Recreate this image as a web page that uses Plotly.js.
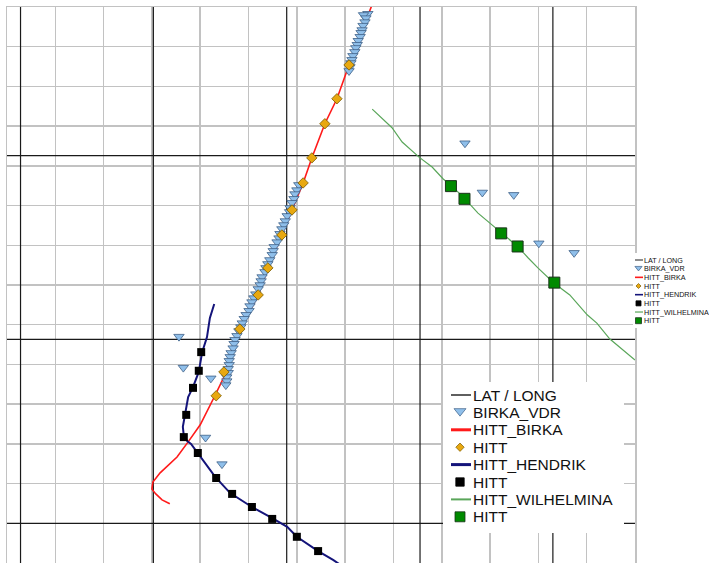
<!DOCTYPE html>
<html>
<head>
<meta charset="utf-8">
<script src="https://cdn.plot.ly/plotly-3.0.1.min.js"></script>
<style>html,body{margin:0;padding:0;background:#fff;}#chart{width:709px;height:563px;}</style>
</head>
<body>
<div id="chart"></div>
<script>
// ---- DATA (chart grid units) ----
const lonLines = [0.28, 3.03, 5.79, 8.55, 11.30];
const latLines = [1.00, 5.63, 10.26];

const birkaTrackX = [7.58, 7.35, 7.08, 6.83, 6.58, 6.31, 6.13, 5.90, 5.69, 5.40, 5.20, 4.82, 4.62, 4.49, 4.29, 4.00, 3.75, 3.52, 3.17, 3.02, 3.00, 3.08, 3.21, 3.37];
const birkaTrackY = [14.13, 13.42, 12.54, 11.69, 11.06, 10.20, 9.57, 8.89, 8.26, 7.43, 6.75, 5.89, 5.24, 4.68, 4.18, 3.48, 3.05, 2.67, 2.27, 2.04, 1.86, 1.74, 1.59, 1.49];

const birkaHittX = [7.08, 6.83, 6.58, 6.31, 6.13, 5.90, 5.69, 5.40, 5.20, 4.82, 4.49, 4.33];
const birkaHittY = [12.54, 11.69, 11.06, 10.20, 9.57, 8.89, 8.26, 7.43, 6.75, 5.89, 4.81, 4.21];

const birkaVdrX = [
  7.47, 7.38, 7.43, 7.41, 7.37, 7.35, 7.33, 7.31, 7.27, 7.25, 7.22, 7.20, 7.16, 7.14, 7.12, 7.10, 7.08,
  6.04, 6.00, 5.96, 5.94, 5.90, 5.86, 5.85, 5.80, 5.76, 5.73, 5.69, 5.65, 5.63, 5.59, 5.53, 5.51, 5.49, 5.44,
  5.40, 5.36, 5.34, 5.28, 5.26, 5.24, 5.20, 5.15, 5.11, 5.07, 5.03, 5.01, 4.95, 4.91, 4.87, 4.84, 4.80, 4.76,
  4.72, 4.70, 4.68, 4.64, 4.62, 4.60, 4.60, 4.58, 4.58, 4.55, 4.55, 4.53,
  3.56, 3.65, 4.22, 4.11, 4.45, 9.48, 9.84, 10.49, 11.01, 11.74];
const birkaVdrY = [
  13.83, 13.80, 13.72, 13.62, 13.53, 13.42, 13.35, 13.25, 13.15, 13.05, 12.97, 12.87, 12.77, 12.67, 12.59, 12.49, 12.39,
  9.52, 9.39, 9.29, 9.17, 9.07, 8.94, 8.84, 8.74, 8.61, 8.51, 8.41, 8.29, 8.18, 8.08, 7.96, 7.86, 7.76, 7.63,
  7.53, 7.43, 7.33, 7.20, 7.10, 7.00, 6.90, 6.77, 6.67, 6.57, 6.47, 6.35, 6.25, 6.15, 6.04, 5.94, 5.84, 5.72,
  5.62, 5.52, 5.41, 5.29, 5.19, 5.09, 4.99, 4.89, 4.79, 4.68, 4.58, 4.48,
  5.70, 4.92, 4.65, 3.16, 2.49, 10.57, 9.33, 9.27, 8.05, 7.81];

const hendrikTrackX = [4.29, 4.20, 4.14, 4.04, 3.97, 3.85, 3.75, 3.69, 3.64, 3.66, 3.73, 3.81, 3.95, 4.31, 4.62, 5.07, 5.49, 5.80, 6.00, 6.44, 6.75, 6.94];
const hendrikTrackY = [6.52, 6.17, 5.69, 5.31, 4.81, 4.43, 4.18, 3.73, 3.43, 3.20, 3.07, 3.00, 2.77, 2.17, 1.76, 1.41, 1.13, 0.91, 0.66, 0.30, 0.08, -0.08];

const hendrikHittX = [4.02, 3.97, 3.85, 3.71, 3.66, 3.95, 4.33, 4.66, 5.07, 5.49, 6.00, 6.44];
const hendrikHittY = [5.31, 4.84, 4.41, 3.73, 3.17, 2.77, 2.14, 1.74, 1.41, 1.11, 0.66, 0.30];

const wilhelminaTrackX = [7.56, 7.97, 8.18, 8.53, 8.80, 9.03, 9.21, 9.48, 9.75, 10.00, 10.25, 10.58, 10.79, 10.99, 11.32, 11.65, 12.01, 12.21, 12.48, 12.63, 13.00];
const wilhelminaTrackY = [11.43, 10.96, 10.60, 10.22, 9.97, 9.67, 9.49, 9.17, 8.81, 8.56, 8.31, 7.96, 7.68, 7.43, 7.05, 6.75, 6.25, 6.04, 5.64, 5.49, 5.11];

const wilhelminaHittX = [9.19, 9.47, 10.23, 10.57, 11.33];
const wilhelminaHittY = [9.49, 9.17, 8.30, 7.97, 7.06];

const legendLabels = ["LAT / LONG", "BIRKA_VDR", "HITT_BIRKA", "HITT", "HITT_HENDRIK", "HITT", "HITT_WILHELMINA", "HITT"];

const xRange = [0, 13];
const yRange = [0, 14];

// ---- STYLES ----
const C = {
  grid: '#c2c2c2', latlong: '#1a1a1a', red: '#ff1a1a', navy: '#14147a', green: '#5aa65a',
  triFill: '#8fbfea', triLine: '#3d5f86', diaFill: '#e8a810', diaLine: '#7a5a00',
  sqBlack: '#000000', sqGreen: '#008a00', sqGreenLine: '#1a331a'
};

// lat/long grid lines as one trace
const llX = [], llY = [];
lonLines.forEach(v => { llX.push(v, v, null); llY.push(yRange[0] - 1, yRange[1] + 1, null); });
latLines.forEach(v => { llX.push(xRange[0] - 1, xRange[1] + 1, null); llY.push(v, v, null); });

const traces = [
  {x: llX, y: llY, mode: 'lines', name: 'LAT / LONG', line: {color: C.latlong, width: 1.2}, hoverinfo: 'skip'},
  {x: birkaTrackX, y: birkaTrackY, mode: 'lines', name: 'HITT_BIRKA', line: {color: C.red, width: 1.6}},
  {x: birkaVdrX, y: birkaVdrY, mode: 'markers', name: 'BIRKA_VDR',
   marker: {symbol: 'triangle-down', size: 9, color: C.triFill, line: {color: C.triLine, width: 0.8}}},
  {x: birkaHittX, y: birkaHittY, mode: 'markers', name: 'HITT',
   marker: {symbol: 'diamond', size: 8, color: C.diaFill, line: {color: C.diaLine, width: 0.8}}},
  {x: hendrikTrackX, y: hendrikTrackY, mode: 'lines', name: 'HITT_HENDRIK', line: {color: C.navy, width: 2}},
  {x: hendrikHittX, y: hendrikHittY, mode: 'markers', name: 'HITT',
   marker: {symbol: 'square', size: 8, color: C.sqBlack}},
  {x: wilhelminaTrackX, y: wilhelminaTrackY, mode: 'lines', name: 'HITT_WILHELMINA', line: {color: C.green, width: 1.2}},
  {x: wilhelminaHittX, y: wilhelminaHittY, mode: 'markers', name: 'HITT',
   marker: {symbol: 'square', size: 11, color: C.sqGreen, line: {color: C.sqGreenLine, width: 1}}}
];

// ---- manual legends (paper coords from pixel positions) ----
const W = 709, H = 563;
const PX = p => p / W, PY = p => 1 - p / H;
const shapes = [], annotations = [];
function pathOf(pts) { return 'M' + pts.map(p => PX(p[0]) + ',' + PY(p[1])).join('L') + 'Z'; }
function buildLegend(o) {
  shapes.push({type: 'rect', xref: 'paper', yref: 'paper', x0: PX(o.box[0]), x1: PX(o.box[1]), y0: PY(o.box[3]), y1: PY(o.box[2]),
    fillcolor: '#ffffff', line: {width: 0}, layer: 'above'});
  const kinds = [
    {t: 'line', c: C.latlong, w: o.lw[0]},
    {t: 'tri'},
    {t: 'line', c: C.red, w: o.lw[1]},
    {t: 'dia'},
    {t: 'line', c: C.navy, w: o.lw[1]},
    {t: 'sq', c: C.sqBlack, lc: C.sqBlack},
    {t: 'line', c: C.green, w: o.lw[2]},
    {t: 'sq2', c: C.sqGreen, lc: C.sqGreenLine}
  ];
  legendLabels.forEach((lab, i) => {
    const y = o.y0 + i * o.dy, k = kinds[i], cx = o.sx, s = o.s;
    if (k.t === 'line') {
      shapes.push({type: 'line', xref: 'paper', yref: 'paper', x0: PX(o.lx[0]), x1: PX(o.lx[1]), y0: PY(y), y1: PY(y), line: {color: k.c, width: k.w}, layer: 'above'});
    } else if (k.t === 'tri') {
      const w = s * 0.6, h = s * 0.75;
      shapes.push({type: 'path', xref: 'paper', yref: 'paper', path: pathOf([[cx - w, y - h / 2], [cx + w, y - h / 2], [cx, y + h / 2]]),
        fillcolor: C.triFill, line: {color: C.triLine, width: 0.7}, layer: 'above'});
    } else if (k.t === 'dia') {
      const r = s * 0.42;
      shapes.push({type: 'path', xref: 'paper', yref: 'paper', path: pathOf([[cx, y - r], [cx + r, y], [cx, y + r], [cx - r, y]]),
        fillcolor: C.diaFill, line: {color: C.diaLine, width: 0.7}, layer: 'above'});
    } else {
      const r = (k.t === 'sq2' ? s * 0.5 : s * 0.42);
      shapes.push({type: 'rect', xref: 'paper', yref: 'paper', x0: PX(cx - r), x1: PX(cx + r), y0: PY(y + r), y1: PY(y - r),
        fillcolor: k.c, line: {color: k.lc, width: 0.8}, layer: 'above'});
    }
    annotations.push({text: lab, xref: 'paper', yref: 'paper', x: PX(o.tx), y: PY(y), xanchor: 'left', yanchor: 'middle',
      showarrow: false, borderpad: 0, font: {family: 'Liberation Sans, Arial, sans-serif', size: o.fs, color: '#111111'}});
  });
}
// big legend inside plot
buildLegend({box: [443, 624, 382, 533], y0: 395, dy: 17.4, lx: [451, 471], sx: 460, tx: 471.5, s: 10, fs: 15.5, lw: [1.4, 3, 2]});
// small legend at right
buildLegend({box: [633, 709, 253, 328], y0: 260, dy: 8.67, lx: [635, 643], sx: 638.5, tx: 643, s: 6, fs: 7.2, lw: [1, 1.6, 1.2]});

const axisCommon = {dtick: 1, tick0: 0, showgrid: true, gridcolor: C.grid, gridwidth: 1.5, zeroline: false,
  showticklabels: false, ticks: '', showline: true, mirror: true, linecolor: C.grid, linewidth: 1.5, fixedrange: true};

const layout = {
  width: W, height: H,
  margin: {l: 0, r: 0, t: 0, b: 0},
  paper_bgcolor: '#ffffff', plot_bgcolor: '#ffffff',
  showlegend: false,
  xaxis: Object.assign({domain: [7 / W, 635 / W], range: xRange}, axisCommon),
  yaxis: Object.assign({domain: [0, 556 / H], range: yRange}, axisCommon),
  shapes: shapes,
  annotations: annotations
};

Plotly.newPlot('chart', traces, layout, {displayModeBar: false, staticPlot: true});
</script>
</body>
</html>
